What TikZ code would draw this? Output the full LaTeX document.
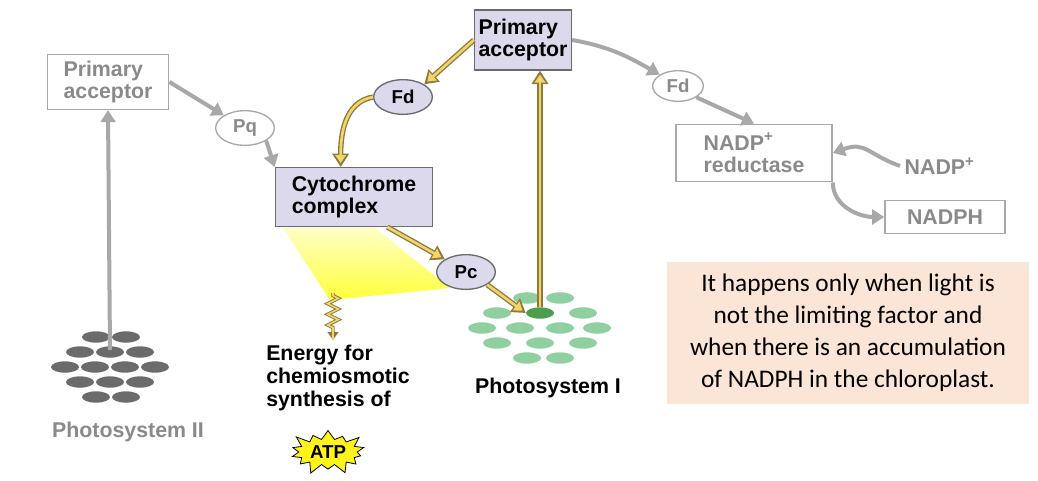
\documentclass[tikz,border=0pt]{standalone}
\usepackage{fontspec}
\setmainfont{Liberation Sans}
\newfontfamily\calfont{Carlito}
\usetikzlibrary{arrows.meta,shapes.geometric,shapes.misc,shapes.symbols,decorations.pathmorphing}
\definecolor{lav}{HTML}{DDD9EC}
\definecolor{gr}{HTML}{A8A8A8}
\definecolor{gtxt}{HTML}{8A8A8A}
\definecolor{yel}{HTML}{F2D46A}
\definecolor{ybrd}{HTML}{8C7A3A}
\definecolor{pink}{HTML}{FBE5D6}
\definecolor{psg}{HTML}{6B6B6B}
\definecolor{psgr}{HTML}{8FCFA0}
\tikzset{
  bigf/.style={font=\bfseries\fontsize{16}{17}\selectfont},
  gbox/.style={draw=gr,line width=1.2pt,fill=white,text=gtxt,bigf,align=left,inner sep=3pt},
  pbox/.style={draw=psg,line width=1pt,fill=lav,text=black,bigf,align=left,inner sep=3pt},
  gell/.style={ellipse,draw=gr,line width=1pt,fill=white,text=gtxt,font=\bfseries\fontsize{14}{15}\selectfont,minimum width=44pt,minimum height=26pt,inner sep=0pt},
  pell/.style={ellipse,draw=psg,line width=1pt,fill=lav,text=black,font=\bfseries\fontsize{14}{15}\selectfont,minimum width=44pt,minimum height=26pt,inner sep=0pt},
  garr/.style={gr,line width=3pt,-{Triangle[length=9pt,width=11pt]}},
  yarr/.style={ybrd,line width=4pt,-{Triangle[length=10pt,width=12pt]},
     postaction={draw=yel,line width=2pt,shorten >=3pt,-{Triangle[length=6pt,width=8pt]}}},
  gov/.style={ellipse,fill=psg,minimum width=21pt,minimum height=8.5pt,inner sep=0pt},
  gn/.style={ellipse,fill=psgr,minimum width=21pt,minimum height=8.5pt,inner sep=0pt}
}
\begin{document}
\begin{tikzpicture}[x=0.75pt,y=-0.75pt]
\useasboundingbox[fill=white] (0,0) rectangle (1038,480);
\shade[top color=yellow!25,bottom color=yellow!85,opacity=0.9] (283,228) -- (330,300) -- (450,288) -- (375,228) -- cycle;
\foreach \x/\y in {96/337,126/337,80/352,110/352,140/352,65/367,95/367,125/367,155/367,80/382,110/382,140/382,96/397,126/397}
  \node[gov] at (\x,\y) {};
\coordinate (ps2) at (110,350);
\foreach \x/\y in {527/298,560/298,497/313,583/313,482/328,520/328,560/328,597/328,497/343,540/343,583/343,527/358,560/358}
  \node[gn] at (\x,\y) {};
\node[ellipse,fill=green!45!black!70,minimum width=21pt,minimum height=8.5pt,inner sep=0pt] (ps1) at (540,313) {};
\node[gbox,minimum width=91pt,minimum height=41pt] (pa2) at (108,82) {Primary\\acceptor};
\node[gell] (pq) at (245,128) {Pq};
\node[pbox,minimum width=118pt,minimum height=44pt] (cyt) at (354,197) {Cytochrome\\complex};
\node[pell] (fd) at (403,97) {Fd};
\node[pbox,minimum width=72pt,minimum height=45pt] (pa1) at (523,40) {Primary\\acceptor};
\node[pell] (pc) at (466,272) {Pc};
\node[gell,minimum width=38pt,minimum height=23pt] (fd2) at (678,86) {Fd};
\node[gbox,minimum width=117pt,minimum height=43pt] (red) at (754,153) {NADP\textsuperscript{+}\\reductase};
\node[text=gtxt,bigf,anchor=west] (nadp) at (900,166) {NADP\textsuperscript{+}};
\node[gbox,minimum width=90pt,minimum height=25pt,align=center] (nadph) at (945,217) {NADPH};
\node[fill=pink,minimum width=272pt,minimum height=106pt,align=center,font=\calfont\fontsize{19}{24}\selectfont] (note) at (848,333)
  {It happens only when light is\\not the limiting factor and\\when there is an accumulation\\of NADPH in the chloroplast.};
\node[text=gtxt,bigf] (l2) at (128,432) {Photosystem II};
\node[bigf] (l1) at (548,388) {Photosystem I};
\node[font=\bfseries\fontsize{16}{17}\selectfont,align=left,anchor=north west,inner sep=0pt] (en) at (266,345) {Energy for\\chemiosmotic\\synthesis of};
\node[starburst,starburst points=14,starburst point height=9pt,draw=black,fill=yellow!90,line width=0.6pt,font=\bfseries\fontsize{14}{15}\selectfont,inner sep=2pt] (atp) at (328,452) {ATP};
\coordinate (z1) at (333,293);
\coordinate (z2) at (333,340);
\draw[ybrd,line width=2.6pt,decorate,decoration={zigzag,segment length=8pt,amplitude=4pt,pre length=2pt,post length=6pt},-{Triangle[length=6pt,width=8pt]}] (z1) -- (z2);
\draw[yel,line width=1.2pt,decorate,decoration={zigzag,segment length=8pt,amplitude=4pt,pre length=2pt,post length=6pt}] (z1) -- (z2);
\draw[garr] (ps2) -- (pa2.south);
\draw[garr] (pa2.east) -- (pq.north west);
\draw[garr] (pq.south east) -- (cyt.north west);
\draw[garr] (pa1.east) to[out=-10,in=150] (fd2.north west);
\draw[garr] (fd2.south east) -- (red.north);
\draw[garr] (nadp.west) to[out=160,in=20,looseness=1.3] (red.east);
\draw[garr] (red.south east) to[out=-90,in=180] (nadph.west);
\draw[yarr] (ps1.north) -- (ps1.north |- pa1.south);
\draw[yarr] (pa1.west) -- (fd.north east);
\draw[yarr] (fd.west) to[out=190,in=90] ([xshift=-10pt]cyt.north);
\draw[yarr] ([xshift=25pt]cyt.south) -- (pc.north west);
\draw[yarr] (pc.south east) -- (ps1.west);
\end{tikzpicture}
\end{document}
